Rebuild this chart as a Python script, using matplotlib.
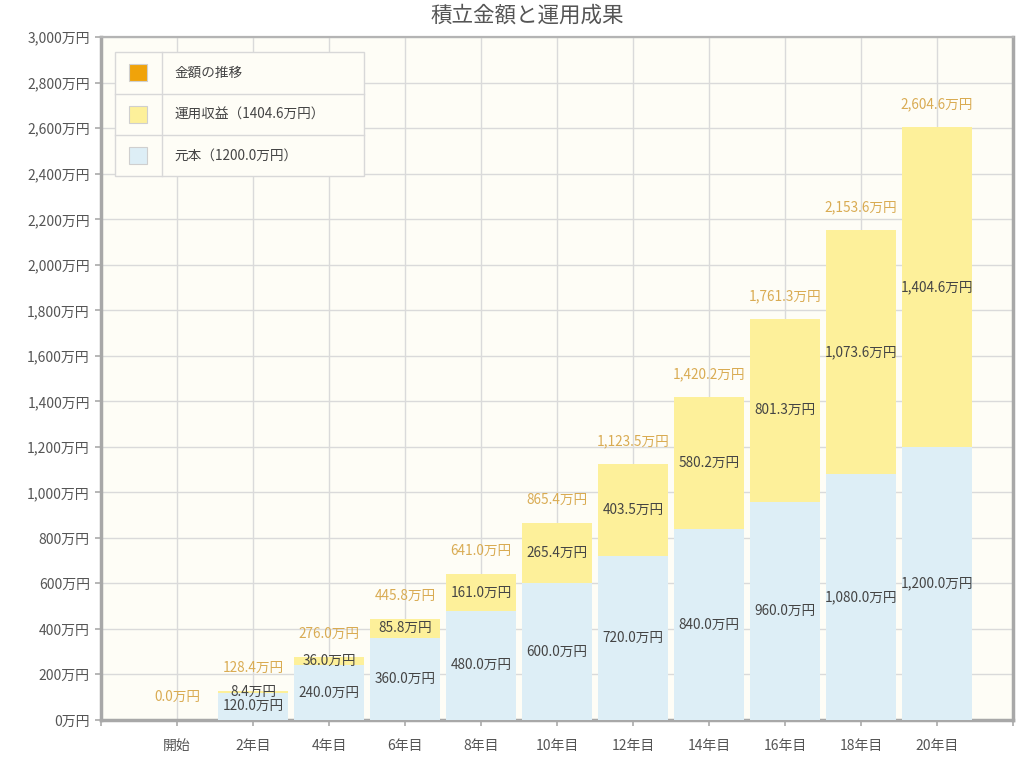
import numpy as np
import matplotlib.pyplot as plt
from matplotlib.patches import Rectangle

plt.rcParams['font.family'] = ['Noto Sans CJK JP', 'DejaVu Sans']

# data
years = ['開始', '2年目', '4年目', '6年目', '8年目', '10年目', '12年目', '14年目', '16年目', '18年目', '20年目']
principal = [0, 120.0, 240.0, 360.0, 480.0, 600.0, 720.0, 840.0, 960.0, 1080.0, 1200.0]
profit = [0, 8.4, 36.0, 85.8, 161.0, 265.4, 403.5, 580.2, 801.3, 1073.6, 1404.6]
legend_labels = ['金額の推移', '運用収益（1404.6万円）', '元本（1200.0万円）']

principal = np.array(principal)
profit = np.array(profit)
total = principal + profit
x = np.arange(len(years))

c_blue = '#ddeef6'
c_yellow = '#fdf09a'
c_orange = '#f0a30a'
c_total = '#d9ab52'
c_text = '#444444'

fig = plt.figure(figsize=(10.2, 7.68), dpi=100)
ax = fig.add_axes([0.099, 0.0625, 0.894, 0.889])
ax.set_facecolor('#fefdf6')

w = 0.92
ax.bar(x, principal, width=w, color=c_blue, zorder=3, linewidth=0)
ax.bar(x, profit, width=w, bottom=principal, color=c_yellow, zorder=3, linewidth=0)

fs = 9.8
for i in range(len(x)):
    if principal[i] > 0:
        ax.text(x[i], principal[i] / 2, f'{principal[i]:,.1f}万円', ha='center', va='center',
                fontsize=fs, color=c_text, zorder=5)
    if profit[i] > 0:
        ax.text(x[i], principal[i] + profit[i] / 2, f'{profit[i]:,.1f}万円', ha='center', va='center',
                fontsize=fs, color=c_text, zorder=5)
    ax.annotate(f'{total[i]:,.1f}万円', (x[i], total[i]), xytext=(0, 16.5), textcoords='offset points',
                ha='center', va='center', fontsize=fs, color=c_total, zorder=5)

ax.set_xlim(-1, 11)
ax.set_ylim(0, 3000)
ax.set_yticks(np.arange(0, 3001, 200))
ax.set_yticklabels([f'{v:,}万円' for v in range(0, 3001, 200)])
ax.set_xticks(x)
ax.set_xticklabels(years)
ax.set_xticks([-1, 11], minor=True)
ax.tick_params(axis='both', colors='#aaaaaa', labelcolor='#555555', labelsize=10, length=4, width=1.2)
ax.tick_params(axis='x', which='minor', colors='#aaaaaa', length=4, width=1.2)
ax.tick_params(axis='x', pad=10)
ax.tick_params(axis='y', pad=4)
ax.grid(True, color='#dadada', linewidth=1.0, zorder=0)
ax.set_axisbelow(True)

for side in ['left', 'bottom', 'right']:
    ax.spines[side].set_color('#a8a8a8')
    ax.spines[side].set_linewidth(2.5)
ax.spines['top'].set_color('#b4b4b4')
ax.spines['top'].set_linewidth(1.6)

fig.text(0.517, 0.980, '積立金額と運用成果', ha='center', va='center', fontsize=15.5, color='#555555')

# legend box drawn by hand
lx0, lx1, lsep = 0.0154, 0.2887, 0.067
ly_top, ly_bot = 0.978, 0.7965
rows = np.linspace(ly_top, ly_bot, 4)
ax.add_patch(Rectangle((lx0, ly_bot), lx1 - lx0, ly_top - ly_bot, transform=ax.transAxes,
                       facecolor='#fefdf6', edgecolor='#d8d8d8', linewidth=1, zorder=6))
for r in rows[1:3]:
    ax.plot([lx0, lx1], [r, r], transform=ax.transAxes, color='#d8d8d8', linewidth=1, zorder=7)
ax.plot([lsep, lsep], [ly_bot, ly_top], transform=ax.transAxes, color='#d8d8d8', linewidth=1, zorder=7)
for k, (lab, col) in enumerate(zip(legend_labels, [c_orange, c_yellow, c_blue])):
    cy = (rows[k] + rows[k + 1]) / 2
    ax.add_patch(Rectangle((0.0406 - 0.0095, cy - 0.0125), 0.019, 0.025, transform=ax.transAxes,
                           facecolor=col, edgecolor='#cfcfcf', linewidth=0.8, zorder=8))
    ax.text(0.081, cy, lab, transform=ax.transAxes, ha='left', va='center', fontsize=fs,
            color=c_text, zorder=8)

plt.savefig('out.png', dpi=100, facecolor='white')
